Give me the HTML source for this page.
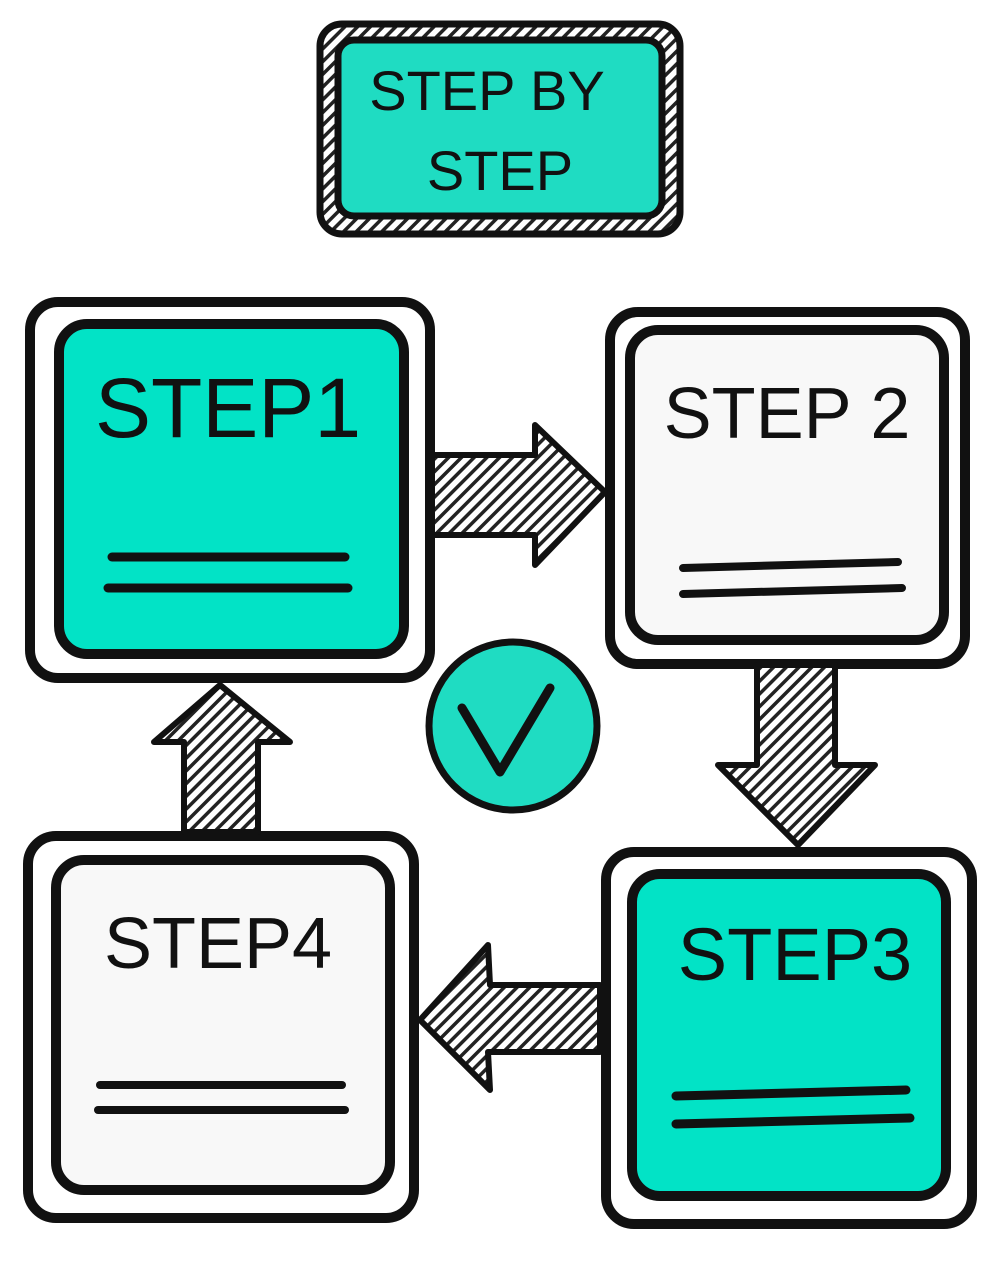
<!DOCTYPE html>
<html><head><meta charset="utf-8"><style>
html,body{margin:0;padding:0;background:#fff;}
svg{display:block}
text{font-family:"Liberation Sans",sans-serif;fill:#111;}
</style></head><body>
<svg width="1000" height="1267" viewBox="0 0 1000 1267" xmlns="http://www.w3.org/2000/svg">
<defs>
<pattern id="h" patternUnits="userSpaceOnUse" width="9" height="9" patternTransform="rotate(45)">
<rect width="9" height="9" fill="#fff"/><rect width="3.5" height="9" fill="#222"/>
</pattern>
</defs>
<g stroke="#111" stroke-linejoin="round" stroke-linecap="round">
<!-- title -->
<rect x="320" y="24" width="360" height="210" rx="22" fill="url(#h)" stroke-width="7"/>
<rect x="338" y="40" width="324" height="176" rx="16" fill="#1fdcc2" stroke-width="7"/>
<!-- step1 -->
<rect x="30" y="302" width="400" height="376" rx="28" fill="#fff" stroke-width="10"/>
<rect x="59" y="324" width="345" height="330" rx="28" fill="#02e3c6" stroke-width="10"/>
<line x1="112" y1="557" x2="345" y2="557" stroke-width="9"/>
<line x1="108" y1="588" x2="348" y2="588" stroke-width="9"/>
<!-- step2 -->
<rect x="610" y="312" width="355" height="352" rx="28" fill="#fff" stroke-width="10"/>
<rect x="630" y="330" width="314" height="310" rx="28" fill="#f8f8f8" stroke-width="10"/>
<line x1="683" y1="568" x2="898" y2="562" stroke-width="8"/>
<line x1="683" y1="594" x2="902" y2="588" stroke-width="8"/>
<!-- step3 -->
<rect x="606" y="852" width="366" height="372" rx="28" fill="#fff" stroke-width="10"/>
<rect x="632" y="874" width="314" height="322" rx="28" fill="#02e3c6" stroke-width="10"/>
<line x1="676" y1="1096" x2="906" y2="1090" stroke-width="9"/>
<line x1="676" y1="1124" x2="910" y2="1118" stroke-width="9"/>
<!-- step4 -->
<rect x="28" y="836" width="386" height="382" rx="28" fill="#fff" stroke-width="10"/>
<rect x="56" y="860" width="334" height="330" rx="28" fill="#f8f8f8" stroke-width="10"/>
<line x1="100" y1="1085" x2="342" y2="1085" stroke-width="8"/>
<line x1="98" y1="1110" x2="345" y2="1110" stroke-width="8"/>
<!-- arrows -->
<polygon points="432,455 535,455 535,425 605,492 535,565 535,535 432,535" fill="url(#h)" stroke-width="6"/>
<polygon points="757,665 835,665 835,765 875,765 798,845 718,765 757,765" fill="url(#h)" stroke-width="6"/>
<polygon points="600,985 490,985 488,945 420,1020 490,1090 488,1052 600,1052" fill="url(#h)" stroke-width="6"/>
<polygon points="184,832 258,832 258,742 290,742 220,685 154,742 184,742" fill="url(#h)" stroke-width="6"/>
<!-- check -->
<circle cx="513" cy="726" r="84" fill="#1fdcc2" stroke-width="7"/>
<polyline points="462,708 500,772 550,688" fill="none" stroke-width="9"/>
</g>
<text x="487" y="110" font-size="56" text-anchor="middle">STEP BY</text>
<text x="500" y="190" font-size="56" text-anchor="middle">STEP</text>
<text x="228" y="437" font-size="84" text-anchor="middle">STEP1</text>
<text x="787" y="438" font-size="72" text-anchor="middle">STEP 2</text>
<text x="795" y="980" font-size="74" text-anchor="middle">STEP3</text>
<text x="218" y="968" font-size="72" text-anchor="middle">STEP4</text>
</svg>
</body></html>
